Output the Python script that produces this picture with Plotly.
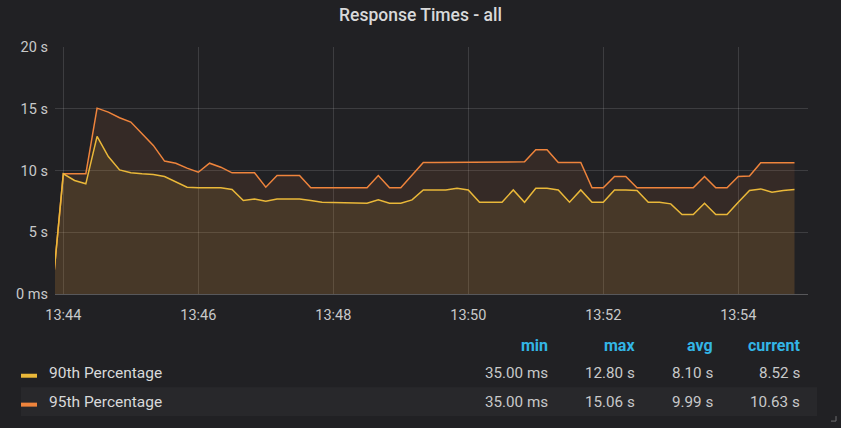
import pandas as pd
import plotly.graph_objects as go

# Series sampled every 10 s (seconds)
times = pd.date_range("2019-01-01 13:43:50", periods=67, freq="10s")

p90 = [0.035, 9.73, 9.19, 8.92, 12.76, 11.13, 10.05, 9.81, 9.73, 9.68,
       9.51, 9.05, 8.65, 8.6, 8.6, 8.6, 8.46, 7.57, 7.7, 7.51,
       7.7, 7.7, 7.7, 7.57, 7.43, 7.4, 7.4, 7.35, 7.35, 7.62,
       7.35, 7.35, 7.62, 8.43, 8.43, 8.43, 8.57, 8.43, 7.43, 7.43,
       7.43, 8.43, 7.43, 8.57, 8.57, 8.43, 7.43, 8.43, 7.43, 7.43,
       8.43, 8.43, 8.38, 7.43, 7.43, 7.3, 6.43, 6.43, 7.35, 6.43,
       6.43, 7.43, 8.38, 8.51, 8.24, 8.38, 8.46]

p95 = [0.035, 9.73, 9.73, 9.73, 15.05, 14.73, 14.27, 13.92, 12.97, 12.03,
       10.76, 10.59, 10.19, 9.86, 10.59, 10.27, 9.81, 9.81, 9.81, 8.65,
       9.6, 9.6, 9.59, 8.6, 8.6, 8.6, 8.6, 8.6, 8.6, 9.59,
       8.6, 8.6, 9.62, 10.65, 10.65, 10.65, 10.7, 10.7, 10.7, 10.7,
       10.7, 10.7, 10.7, 11.68, 11.68, 10.65, 10.65, 10.65, 8.6, 8.6,
       9.51, 9.51, 8.6, 8.6, 8.6, 8.6, 8.6, 8.6, 9.51, 8.6,
       8.6, 9.51, 9.56, 10.62, 10.62, 10.62, 10.63]

y_ticks = [0, 5, 10, 15, 20]
y_labels = ["0 ms", "5 s", "10 s", "15 s", "20 s"]

series_names = ["90th Percentage", "95th Percentage"]
series_colors = ["#EAB839", "#EF843C"]
stat_headers = ["min", "max", "avg", "current"]
stats_90 = ["35.00 ms", "12.80 s", "8.10 s", "8.52 s"]
stats_95 = ["35.00 ms", "15.06 s", "9.99 s", "10.63 s"]

W, H = 841, 428
L, R, T, B = 55, 808, 46.7, 294.5   # plot area in pixels

def px(x):
    return (x - L) / (R - L)

def py(y):
    return (B - y) / (B - T)

fig = go.Figure()

fig.add_trace(go.Scatter(
    x=times, y=p95, name=series_names[1], mode="lines",
    line=dict(color=series_colors[1], width=1.5),
    fill="tozeroy", fillcolor="rgba(239,132,60,0.1)"
))
fig.add_trace(go.Scatter(
    x=times, y=p90, name=series_names[0], mode="lines",
    line=dict(color=series_colors[0], width=1.5),
    fill="tozeroy", fillcolor="rgba(234,184,57,0.1)"
))

fig.update_layout(
    width=W, height=H,
    margin=dict(l=L, r=W - R, t=T, b=H - B),
    paper_bgcolor="#212124",
    plot_bgcolor="#212124",
    showlegend=False,
    font=dict(family="Roboto", color="#c8c9ca", size=13),
    title=dict(text="Response Times - all", x=0.5, xanchor="center",
               y=1 - 15 / H, yanchor="middle", yref="container",
               font=dict(size=17.5, color="#d8d9da", family="Roboto", weight=500)),
    xaxis=dict(
        type="date",
        range=["2019-01-01 13:43:52.6", "2019-01-01 13:55:02"],
        tick0="2019-01-01 13:44:00", dtick=120000, tickformat="%H:%M",
        showgrid=True, gridcolor="rgba(255,255,255,0.13)", gridwidth=1,
        showline=True, linecolor="rgba(255,255,255,0.25)", linewidth=1,
        zeroline=False, ticks="", ticklabelstandoff=8,
        tickfont=dict(size=14.5, color="#c8c9ca"),
    ),
    yaxis=dict(
        range=[0, 20], tickvals=y_ticks, ticktext=y_labels,
        showgrid=True, gridcolor="rgba(255,255,255,0.13)", gridwidth=1,
        zeroline=False, showline=False, ticks="", ticklabelstandoff=6,
        tickfont=dict(size=14.5, color="#c8c9ca"),
    ),
)

# legend table
shapes = [
    dict(type="rect", xref="paper", yref="paper", layer="below",
         x0=px(21), x1=px(817), y0=py(388), y1=py(417),
         fillcolor="#28282b", line=dict(width=0)),
    dict(type="rect", xref="paper", yref="paper",
         x0=px(21), x1=px(37), y0=py(374.5), y1=py(378.5),
         fillcolor=series_colors[0], line=dict(width=0)),
    dict(type="rect", xref="paper", yref="paper",
         x0=px(21), x1=px(37), y0=py(403.5), y1=py(407.5),
         fillcolor=series_colors[1], line=dict(width=0)),
    # resize handle
    dict(type="line", xref="paper", yref="paper",
         x0=px(836), x1=px(836), y0=py(417), y1=py(422),
         line=dict(color="#6e6e70", width=1)),
    dict(type="line", xref="paper", yref="paper",
         x0=px(831), x1=px(836), y0=py(422), y1=py(422),
         line=dict(color="#6e6e70", width=1)),
]
fig.update_layout(shapes=shapes)

col_right = [550, 637, 715, 802]
row_y = [373.5, 402.5]

for cx, h in zip(col_right, stat_headers):
    fig.add_annotation(text="<b>" + h + "</b>", xref="paper", yref="paper",
                       x=px(cx), y=py(346.5), xanchor="right", yanchor="middle",
                       showarrow=False, font=dict(size=16, color="#33b5e5"))

for ry, name, stats in zip(row_y, series_names, [stats_90, stats_95]):
    fig.add_annotation(text=name, xref="paper", yref="paper",
                       x=px(47), y=py(ry), xanchor="left", yanchor="middle",
                       showarrow=False, font=dict(size=15.5, color="#d8d9da"))
    for cx, s in zip(col_right, stats):
        fig.add_annotation(text=s, xref="paper", yref="paper",
                           x=px(cx), y=py(ry), xanchor="right", yanchor="middle",
                           showarrow=False, font=dict(size=15.2, color="#c8c9ca"))

# page body has a default 8px margin; remove it so the figure fills the window
fig.write_html("out.html", config={"displayModeBar": False},
               post_script="document.body.style.margin='0';")
